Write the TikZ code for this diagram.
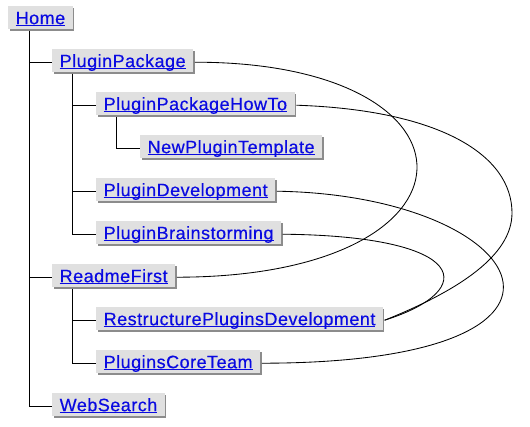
\documentclass[tikz,border=0pt]{standalone}
\usepackage{fontspec}
\usetikzlibrary{shadows}
\newfontfamily\lnkfont[LetterSpace=2.7,FakeBold=0.4]{Liberation Sans}
\definecolor{boxfill}{RGB}{224,224,224}
\definecolor{shadowgray}{RGB}{140,140,140}
\definecolor{linkblue}{RGB}{10,10,225}
\newcommand\lk[1]{\setbox0\hbox{#1}\rlap{\rule[-1.8bp]{\wd0}{1.1bp}}\box0}
\tikzset{
  pg/.style={anchor=north west, fill=boxfill, text=linkblue,
    font=\lnkfont\fontsize{18bp}{20bp}\selectfont,
    inner xsep=7.5bp, inner ysep=2bp, text height=16bp, text depth=3bp,
    drop shadow={shadow xshift=1.5bp, shadow yshift=-1.5bp, opacity=1, fill=shadowgray}},
  tree/.style={draw=black, line width=1bp},
  link/.style={draw=black, line width=0.85bp}
}
\begin{document}
\begin{tikzpicture}[x=1bp,y=-1bp]
\useasboundingbox (0,0) rectangle (530,426);
\node[pg] (home) at (8,6) {\lk{Home}};
\node[pg] (pp) at (52,49) {\lk{PluginPackage}};
\node[pg] (ppht) at (96,92) {\lk{PluginPackageHowTo}};
\node[pg] (npt) at (140,135) {\lk{NewPluginTemplate}};
\node[pg] (pd) at (96,178) {\lk{PluginDevelopment}};
\node[pg] (pb) at (96,221) {\lk{PluginBrainstorming}};
\node[pg] (rf) at (52,264) {\lk{ReadmeFirst}};
\node[pg] (rpd) at (96,307) {\lk{RestructurePluginsDevelopment}};
\node[pg] (pct) at (96,350) {\lk{PluginsCoreTeam}};
\node[pg] (ws) at (52,393) {\lk{WebSearch}};
% tree
\draw[tree] ([shift={(21bp,-1.5bp)}]home.south west) |- ([yshift=-1.5bp]pp.west);
\draw[tree] ([shift={(21bp,-1.5bp)}]home.south west) |- ([yshift=-1.5bp]rf.west);
\draw[tree] ([shift={(21bp,-1.5bp)}]home.south west) |- ([yshift=-1.5bp]ws.west);
\draw[tree] ([shift={(20bp,-1.5bp)}]pp.south west) |- ([yshift=-1.5bp]ppht.west);
\draw[tree] ([shift={(20bp,-1.5bp)}]pp.south west) |- ([yshift=-1.5bp]pd.west);
\draw[tree] ([shift={(20bp,-1.5bp)}]pp.south west) |- ([yshift=-1.5bp]pb.west);
\draw[tree] ([shift={(20bp,-1.5bp)}]ppht.south west) |- ([yshift=-1.5bp]npt.west);
\draw[tree] ([shift={(20bp,-1.5bp)}]rf.south west) |- ([yshift=-1.5bp]rpd.west);
\draw[tree] ([shift={(20bp,-1.5bp)}]rf.south west) |- ([yshift=-1.5bp]pct.west);
% cross links
\draw[link] ([shift={(1.5bp,-1.5bp)}]pp.east) .. controls (494,62) and (494,277) .. ([shift={(1.5bp,-1.5bp)}]rf.east);
\draw[link] ([shift={(1.5bp,-1.5bp)}]ppht.east) .. controls (440,110) and (512,155) .. (512,213) .. controls (512,255) and (460,290) .. ([shift={(1.5bp,-1.5bp)}]rpd.east);
\draw[link] ([shift={(1.5bp,-1.5bp)}]pd.east) .. controls (530,195) and (630,363) .. ([shift={(1.5bp,-1.5bp)}]pct.east);
\draw[link] ([shift={(1.5bp,-1.5bp)}]pb.east) .. controls (470,236) and (480,290) .. ([shift={(1.5bp,-1.5bp)}]rpd.east);
\end{tikzpicture}
\end{document}
